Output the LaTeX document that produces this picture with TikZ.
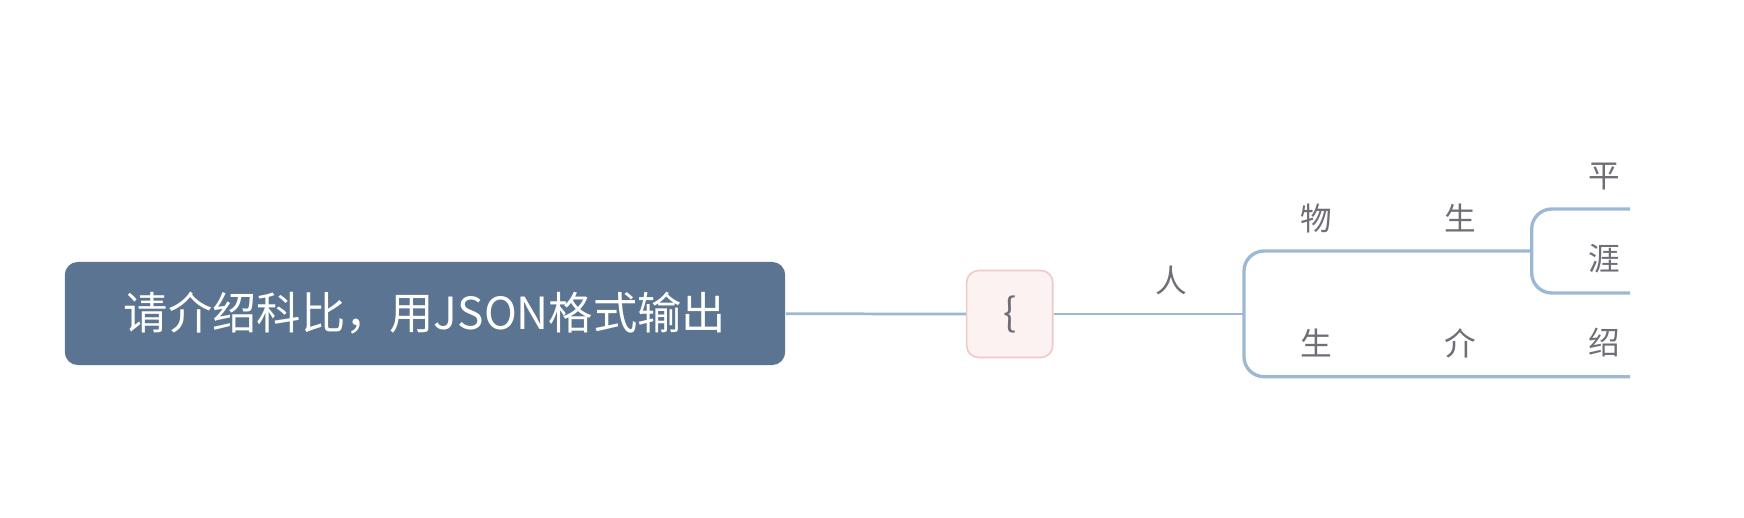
\documentclass[tikz,border=0pt]{standalone}
\usepackage{fontspec}
\newfontfamily\cjk{Noto Sans CJK SC}
\usepackage{tikz}
\usetikzlibrary{calc}

\definecolor{rootfill}{HTML}{5A7491}
\definecolor{linkblue}{HTML}{9DB8D2}
\definecolor{keyfill}{HTML}{FCF2F2}
\definecolor{keyline}{HTML}{F0C8C8}
\definecolor{leafgray}{HTML}{6F6E77}

\begin{document}
\begin{tikzpicture}[x=0.01cm,y=0.01cm,
  rootbox/.style={fill=rootfill,rounded corners=0.13cm,minimum width=7.2cm,
    minimum height=1.03cm,inner sep=0pt,text=white,font=\cjk\fontsize{12.6}{15}\selectfont},
  keybox/.style={fill=keyfill,draw=keyline,line width=0.45pt,rounded corners=0.12cm,
    minimum width=0.86cm,minimum height=0.87cm,inner sep=0pt,text=leafgray,
    font=\cjk\fontsize{11}{13}\selectfont},
  leaf/.style={inner sep=0pt,text=leafgray,font=\cjk\fontsize{9}{11}\selectfont},
  link/.style={draw=linkblue,line width=0.78pt},
  branch/.style={draw=linkblue,line width=0.95pt,rounded corners=0.2cm}]

  \useasboundingbox (0,0) rectangle (1744,518);

  %% Root and key nodes
  \node[rootbox] (ROOT) at (425,204.5) {请介绍科比，用JSON格式输出};
  \node[keybox] (KEY) at (1009.7,204) {\{};
  \draw[link] (ROOT) -- (KEY);

  %% Bracket joints and free ends
  \coordinate (J1) at (1244,204);
  \coordinate (J2) at (1531.7,267);
  \coordinate (E1) at (1630,141.3);
  \coordinate (E2) at (1630,309);
  \coordinate (E3) at (1630,225);
  \draw[link] (KEY) -- (J1);
  \draw[branch] (J2) -| (J1) |- (E1);
  \draw[branch] (E2) -| (J2) |- (E3);

  %% Leaf characters
  \foreach \x/\y/\c/\n in {1171/238/人/L1, 1316/300/物/L2, 1460/300/生/L3,
    1316/175/生/L4, 1460/175/介/L5, 1604/175/绍/L6,
    1604/341.3/平/L7, 1604/259/涯/L8}
  {
    \node[leaf] (\n) at (\x,\y) {\c};
  }

\end{tikzpicture}
\end{document}
